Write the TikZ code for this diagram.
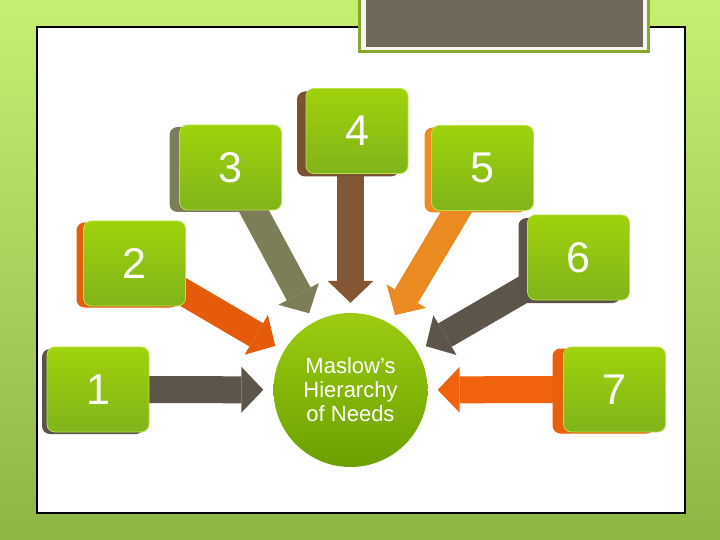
\documentclass[tikz,border=0pt]{standalone}
\usepackage{fontspec}
\setmainfont{Liberation Sans}
\usetikzlibrary{arrows.meta}
\pgfdeclarelayer{bg}
\pgfdeclarelayer{mid}
\pgfsetlayers{bg,mid,main}

\definecolor{leafTop}{HTML}{C6EF72}
\definecolor{leafBot}{HTML}{8FB545}
\definecolor{rimGreen}{HTML}{86A92C}
\definecolor{paper}{HTML}{F4F4F0}
\definecolor{slate}{HTML}{6F6859}
\definecolor{faceTop}{HTML}{9FD20B}
\definecolor{faceBot}{HTML}{80B41A}
\definecolor{faceRim}{HTML}{BCE04A}
\definecolor{needTop}{HTML}{9CCC12}
\definecolor{needBot}{HTML}{6CA000}
\definecolor{tabSlate}{HTML}{5B5347}
\definecolor{tabOrange}{HTML}{E35D0A}
\definecolor{tabOlive}{HTML}{7C7C5B}
\definecolor{tabBrown}{HTML}{7A5232}
\definecolor{tabAmber}{HTML}{EE8A22}
\definecolor{tabRed}{HTML}{E8600C}
\definecolor{arSlate}{HTML}{5D554A}
\definecolor{arOrange}{HTML}{E65A0C}
\definecolor{arOlive}{HTML}{7D7E57}
\definecolor{arBrown}{HTML}{855633}
\definecolor{arAmber}{HTML}{EB8A20}
\definecolor{arRed}{HTML}{F0620E}

\tikzset{
  face/.style={rectangle, rounded corners=8pt, minimum width=102pt, minimum height=85pt,
    inner sep=0pt, top color=faceTop, bottom color=faceBot, draw=faceRim, line width=0.8pt,
    text=white, font=\fontsize{43}{43}\selectfont},
  tab/.style={rectangle, rounded corners=8pt, minimum width=102pt, minimum height=85pt,
    inner sep=0pt},
  conn/.style={line width=27pt, shorten >=10pt,
    -{Triangle[length=22pt,width=46pt,line width=0pt]}},
}

\begin{document}
\begin{tikzpicture}[x=1pt,y=-1pt]
	\useasboundingbox (0,0) rectangle (720,540);
	% slide
	\begin{pgfonlayer}{bg}
	\shade[top color=leafTop, bottom color=leafBot] (0,0) rectangle (720,540);
	\filldraw[fill=white, draw=black, line width=1.2pt] (37,27) rectangle (685,513);
	\fill[rimGreen] (358,-2) rectangle (650,53);
	\fill[paper] (361,-2) rectangle (647,50);
	\fill[slate] (366,-2) rectangle (643,47.5);
	\end{pgfonlayer}
	% centre
	\node[circle, minimum size=154pt, inner sep=0pt, top color=needTop, bottom color=needBot,
	  text=white, align=center, font=\fontsize{22}{24}\selectfont] (need) at (350.5,390)
	  {Maslow’s\\Hierarchy\\of Needs};
	% boxes
	\node[tab, fill=tabSlate] (t1) at (93,391.5) {};
	\node[face] (b1) at (98,389.5) {1};
	\node[tab, fill=tabOrange] (t2) at (127.5,265) {};
	\node[face] (b2) at (134.5,263.5) {2};
	\node[tab, fill=tabOlive] (t3) at (220.5,169.5) {};
	\node[face] (b3) at (230.5,167.5) {3};
	\node[tab, fill=tabBrown] (t4) at (348,134) {};
	\node[face] (b4) at (357,131) {4};
	\node[tab, fill=tabAmber] (t5) at (475.5,170) {};
	\node[face] (b5) at (482.5,168) {5};
	\node[tab, fill=tabSlate] (t6) at (569.5,260.5) {};
	\node[face] (b6) at (578.5,257.5) {6};
	\node[tab, fill=tabRed] (t7) at (603.5,391) {};
	\node[face] (b7) at (614.5,389.5) {7};
	% arrows
	\begin{pgfonlayer}{mid}
	\draw[conn, draw=arSlate] (b1.center) -- (need);
	\draw[conn, draw=arOrange] (b2.center) -- (need);
	\draw[conn, draw=arOlive] (b3.center) -- (need);
	\draw[conn, draw=arBrown] (b4.center -| need) -- (need);
	\draw[conn, draw=arAmber] (b5.center) -- (need);
	\draw[conn, draw=arSlate] (b6.center) -- (need);
	\draw[conn, draw=arRed] (b7.center) -- (need);
	\end{pgfonlayer}
\end{tikzpicture}
\end{document}
